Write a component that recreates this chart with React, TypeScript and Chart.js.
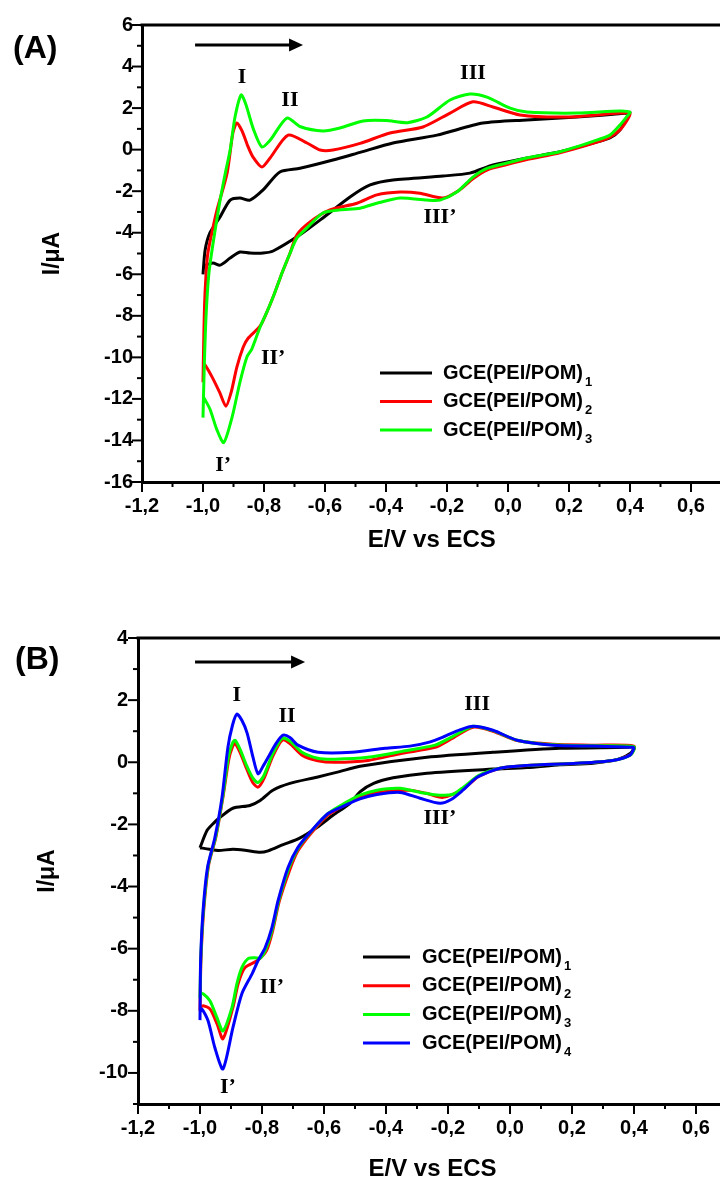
import React, { useEffect, useRef } from 'react';
import { Chart, registerables } from 'chart.js';

Chart.register(...registerables);

// ---------------- data (E / V, I / µA) ----------------
// Panel A
const A1: number[][] = [
  [-1.0, -6.0], [-0.993, -4.83], [-0.977, -4.0], [-0.944, -3.24], [-0.911, -2.43], [-0.879, -2.33], [-0.846, -2.43],
  [-0.803, -1.94], [-0.748, -1.08], [-0.682, -0.9], [-0.574, -0.5], [-0.485, -0.13], [-0.377, 0.32], [-0.233, 0.7],
  [-0.082, 1.28], [0.062, 1.43], [0.226, 1.57], [0.39, 1.76], [0.4, 1.8],
  [0.392, 1.6], [0.367, 0.94], [0.334, 0.56], [0.279, 0.32], [0.17, -0.1], [0.062, -0.4], [-0.049, -0.74],
  [-0.125, -1.13], [-0.213, -1.27], [-0.377, -1.46], [-0.452, -1.7], [-0.518, -2.28], [-0.607, -3.29],
  [-0.682, -4.1], [-0.77, -4.88], [-0.803, -4.98], [-0.846, -4.98], [-0.879, -4.93], [-0.911, -5.22],
  [-0.944, -5.56], [-0.967, -5.46], [-0.993, -5.56], [-1.0, -5.5],
];
const A2: number[][] = [
  [-1.0, -11.2], [-0.998, -9.5], [-0.995, -7.5], [-0.99, -6.0], [-0.984, -4.98], [-0.968, -3.8], [-0.954, -2.9],
  [-0.921, -1.13], [-0.902, 0.8], [-0.889, 1.28], [-0.872, 0.9], [-0.852, 0.13], [-0.836, -0.36], [-0.807, -0.84],
  [-0.78, -0.4], [-0.721, 0.7], [-0.659, 0.32], [-0.616, -0.02], [-0.574, -0.02], [-0.485, 0.3], [-0.387, 0.8],
  [-0.279, 1.09], [-0.19, 1.76], [-0.115, 2.3], [-0.049, 2.05], [0.039, 1.67], [0.193, 1.57], [0.367, 1.76], [0.4, 1.75],
  [0.392, 1.45], [0.367, 0.95], [0.334, 0.6], [0.279, 0.3], [0.17, -0.15], [0.062, -0.48], [-0.003, -0.72],
  [-0.069, -0.98], [-0.115, -1.4], [-0.16, -1.95], [-0.213, -2.33], [-0.289, -2.1], [-0.354, -2.04], [-0.43, -2.18],
  [-0.495, -2.58], [-0.584, -2.9], [-0.649, -3.48], [-0.692, -4.1], [-0.715, -5.0], [-0.74, -5.9], [-0.765, -6.9],
  [-0.79, -7.8], [-0.813, -8.5], [-0.852, -9.08], [-0.868, -9.5], [-0.889, -10.47], [-0.908, -11.7], [-0.925, -12.35],
  [-0.945, -11.7], [-0.97, -10.95], [-0.993, -10.37], [-1.0, -10.3],
];
const A3: number[][] = [
  [-1.0, -12.9], [-0.996, -10.5], [-0.99, -8.0], [-0.981, -6.0], [-0.968, -4.6], [-0.955, -3.4], [-0.944, -2.43],
  [-0.925, -1.0], [-0.911, -0.02], [-0.895, 1.57], [-0.875, 2.63], [-0.86, 2.2], [-0.835, 1.0], [-0.807, 0.13],
  [-0.78, 0.45], [-0.725, 1.52], [-0.68, 1.1], [-0.607, 0.9], [-0.551, 1.04], [-0.475, 1.38], [-0.4, 1.4],
  [-0.33, 1.3], [-0.266, 1.57], [-0.19, 2.39], [-0.125, 2.68], [-0.069, 2.53], [0.007, 2.0], [0.062, 1.81],
  [0.226, 1.76], [0.367, 1.86], [0.4, 1.8],
  [0.39, 1.6], [0.367, 1.18], [0.334, 0.7], [0.279, 0.4], [0.17, -0.1], [0.062, -0.4], [-0.003, -0.64],
  [-0.069, -0.9], [-0.115, -1.32], [-0.168, -2.04], [-0.223, -2.43], [-0.266, -2.43], [-0.354, -2.33],
  [-0.43, -2.58], [-0.485, -2.82], [-0.551, -2.9], [-0.607, -3.05], [-0.659, -3.77], [-0.692, -4.25],
  [-0.715, -5.0], [-0.74, -5.9], [-0.765, -6.9], [-0.79, -7.8], [-0.813, -8.55], [-0.84, -9.6], [-0.856, -9.98],
  [-0.879, -11.2], [-0.905, -12.9], [-0.932, -14.1], [-0.954, -13.5], [-0.977, -12.5], [-0.993, -12.05], [-1.0, -11.9],
];

// Panel B
const B1: number[][] = [
  [-1.0, -2.75], [-0.977, -2.19], [-0.955, -1.95], [-0.935, -1.77], [-0.894, -1.48], [-0.839, -1.39], [-0.806, -1.23],
  [-0.765, -0.9], [-0.71, -0.68], [-0.623, -0.48], [-0.55, -0.3], [-0.484, -0.13], [-0.268, 0.16], [-0.055, 0.32],
  [0.161, 0.45], [0.377, 0.48], [0.4, 0.5],
  [0.39, 0.3], [0.35, 0.1], [0.268, -0.03], [0.161, -0.08], [0.055, -0.17], [-0.055, -0.22], [-0.268, -0.35],
  [-0.377, -0.5], [-0.44, -0.68], [-0.484, -0.95], [-0.516, -1.32], [-0.57, -1.7], [-0.623, -2.1], [-0.68, -2.45],
  [-0.732, -2.65], [-0.78, -2.85], [-0.806, -2.9], [-0.85, -2.84], [-0.894, -2.8], [-0.94, -2.84], [-0.97, -2.8],
  [-1.0, -2.75],
];
const B2: number[][] = [
  [-1.0, -8.0], [-0.997, -6.4], [-0.988, -4.77], [-0.972, -3.3], [-0.949, -2.42], [-0.926, -1.13], [-0.907, 0.1],
  [-0.895, 0.5], [-0.887, 0.61], [-0.87, 0.3], [-0.85, -0.2], [-0.83, -0.65], [-0.813, -0.8], [-0.795, -0.55],
  [-0.765, 0.2], [-0.735, 0.71], [-0.71, 0.6], [-0.671, 0.23], [-0.62, 0.05], [-0.564, 0.0], [-0.458, 0.06],
  [-0.348, 0.29], [-0.242, 0.48], [-0.19, 0.75], [-0.119, 1.13], [-0.055, 1.0], [0.023, 0.7], [0.139, 0.58],
  [0.268, 0.55], [0.4, 0.52],
  [0.39, 0.25], [0.332, 0.06], [0.216, -0.03], [0.055, -0.1], [-0.032, -0.19], [-0.1, -0.45], [-0.15, -0.85],
  [-0.216, -1.13], [-0.27, -1.0], [-0.323, -0.9], [-0.429, -0.97], [-0.484, -1.1], [-0.53, -1.35], [-0.587, -1.7],
  [-0.639, -2.25], [-0.684, -2.85], [-0.71, -3.45], [-0.745, -4.5], [-0.765, -5.4], [-0.785, -6.05], [-0.816, -6.39],
  [-0.855, -6.61], [-0.877, -7.13], [-0.894, -7.9], [-0.926, -8.9], [-0.945, -8.42], [-0.968, -7.94], [-0.99, -7.84],
  [-1.0, -7.9],
];
const B3: number[][] = [
  [-1.0, -7.6], [-0.997, -6.2], [-0.989, -4.77], [-0.973, -3.3], [-0.95, -2.42], [-0.927, -1.13], [-0.908, 0.2],
  [-0.896, 0.6], [-0.887, 0.71], [-0.87, 0.4], [-0.85, -0.1], [-0.83, -0.5], [-0.813, -0.65], [-0.795, -0.45],
  [-0.765, 0.28], [-0.735, 0.77], [-0.71, 0.68], [-0.671, 0.32], [-0.62, 0.13], [-0.564, 0.1], [-0.458, 0.16],
  [-0.348, 0.35], [-0.242, 0.55], [-0.19, 0.8], [-0.119, 1.16], [-0.055, 1.02], [0.023, 0.71], [0.139, 0.56],
  [0.268, 0.53], [0.4, 0.5],
  [0.39, 0.24], [0.332, 0.06], [0.216, -0.03], [0.055, -0.1], [-0.032, -0.19], [-0.1, -0.42], [-0.15, -0.8],
  [-0.184, -1.03], [-0.226, -1.06], [-0.29, -0.97], [-0.355, -0.84], [-0.429, -0.9], [-0.484, -1.06], [-0.53, -1.3],
  [-0.587, -1.65], [-0.639, -2.2], [-0.684, -2.78], [-0.713, -3.4], [-0.746, -4.45], [-0.766, -5.35], [-0.787, -6.0],
  [-0.805, -6.3], [-0.823, -6.29], [-0.845, -6.32], [-0.865, -6.61], [-0.881, -7.13], [-0.897, -7.9], [-0.926, -8.65],
  [-0.945, -8.23], [-0.968, -7.68], [-0.99, -7.45], [-1.0, -7.45],
];
const B4: number[][] = [
  [-1.0, -8.3], [-0.998, -6.4], [-0.99, -4.77], [-0.976, -3.4], [-0.952, -2.42], [-0.929, -1.13], [-0.91, 0.48],
  [-0.895, 1.2], [-0.881, 1.55], [-0.865, 1.35], [-0.848, 0.94], [-0.83, 0.2], [-0.813, -0.37], [-0.795, -0.1],
  [-0.78, 0.16], [-0.755, 0.6], [-0.732, 0.87], [-0.71, 0.8], [-0.684, 0.55], [-0.619, 0.32], [-0.51, 0.32],
  [-0.403, 0.45], [-0.323, 0.52], [-0.26, 0.65], [-0.216, 0.81], [-0.16, 1.05], [-0.119, 1.16], [-0.055, 1.03],
  [0.023, 0.71], [0.139, 0.55], [0.268, 0.52], [0.397, 0.48], [0.4, 0.45],
  [0.387, 0.23], [0.332, 0.06], [0.216, -0.03], [0.055, -0.1], [-0.032, -0.19], [-0.106, -0.48], [-0.152, -0.9],
  [-0.19, -1.2], [-0.226, -1.32], [-0.29, -1.16], [-0.355, -0.97], [-0.429, -1.04], [-0.484, -1.18], [-0.53, -1.38],
  [-0.587, -1.65], [-0.639, -2.19], [-0.684, -2.74], [-0.716, -3.39], [-0.748, -4.45], [-0.768, -5.32], [-0.79, -5.97],
  [-0.813, -6.39], [-0.832, -6.81], [-0.865, -7.45], [-0.894, -8.55], [-0.926, -9.87], [-0.952, -9.19], [-0.974, -8.32],
  [-0.994, -7.94], [-1.0, -8.06],
];

const SERIES_COLORS = ['#000000', '#ff0000', '#00ff00', '#0000ff'];
const LEGEND_BASE = 'GCE(PEI/POM)';
const LEGEND_SUBS_A = ['1', '2', '3'];
const LEGEND_SUBS_B = ['1', '2', '3', '4'];

const X_MIN = -1.2;
const X_MAX = 0.7;
const Y_RANGE_A = [-16, 6];
const Y_RANGE_B = [-11, 4];

const X_TITLE = 'E/V vs ECS';
const Y_TITLE = 'I/\u03bcA';

// peak labels anchored in data coordinates
const PEAKS_A = [
  { t: 'I', e: -0.872, i: 3.5 }, { t: 'II', e: -0.715, i: 2.39 }, { t: 'III', e: -0.115, i: 3.69 },
  { t: 'III\u2019', e: -0.223, i: -3.24 }, { t: 'II\u2019', e: -0.77, i: -10.03 }, { t: 'I\u2019', e: -0.934, i: -15.18 },
];
const PEAKS_B = [
  { t: 'I', e: -0.881, i: 2.16 }, { t: 'II', e: -0.719, i: 1.48 }, { t: 'III', e: -0.106, i: 1.87 },
  { t: 'III\u2019', e: -0.226, i: -1.81 }, { t: 'II\u2019', e: -0.768, i: -7.26 }, { t: 'I\u2019', e: -0.91, i: -10.45 },
];
const ARROW_A = { e0: -1.026, e1: -0.672, i: 5.04 };
const ARROW_B = { e0: -1.016, e1: -0.661, i: 3.23 };

// ---------------- helpers ----------------
const SANS = "'Liberation Sans', Arial, Helvetica, sans-serif";
const SERIF = "'Liberation Serif', 'Times New Roman', serif";

function fmtX(v: number): string {
  const k = Math.round(v * 10);
  if (k % 2 !== 0) return '';
  return (k / 10).toFixed(1).replace('.', ',');
}
function fmtY(v: number): string {
  const k = Math.round(v);
  if (k % 2 !== 0) return '';
  return String(k);
}

function makeDecorPlugin(d: any) {
  return {
    id: 'cvDecor',
    afterDraw(chart: any) {
      const { ctx, chartArea: ca, scales } = chart;
      const xs = scales.x;
      const ys = scales.y;
      ctx.save();
      ctx.strokeStyle = '#000';
      ctx.fillStyle = '#000';
      // top frame
      ctx.lineWidth = 3;
      ctx.beginPath();
      ctx.moveTo(ca.left - 1.5, ca.top);
      ctx.lineTo(ca.right + 2, ca.top);
      ctx.stroke();
      // major / minor ticks (outside)
      ctx.lineWidth = 2;
      for (const t of xs.ticks) {
        const k = Math.round(t.value * 10);
        const px = xs.getPixelForValue(t.value);
        const len = k % 2 === 0 ? 10 : 5;
        ctx.beginPath();
        ctx.moveTo(px, ca.bottom);
        ctx.lineTo(px, ca.bottom + len);
        ctx.stroke();
      }
      for (const t of ys.ticks) {
        const k = Math.round(t.value);
        const py = ys.getPixelForValue(t.value);
        const len = k % 2 === 0 ? 10 : 5;
        ctx.beginPath();
        ctx.moveTo(ca.left, py);
        ctx.lineTo(ca.left - len, py);
        ctx.stroke();
      }
      // panel letter
      ctx.font = `bold 32px ${SANS}`;
      ctx.textAlign = 'left';
      ctx.textBaseline = 'middle';
      ctx.fillText(d.panel.text, d.panel.x, d.panel.y);
      // scan direction arrow
      const ax0 = xs.getPixelForValue(d.arrow.e0);
      const ax1 = xs.getPixelForValue(d.arrow.e1);
      const ay = ys.getPixelForValue(d.arrow.i);
      ctx.lineWidth = 3;
      ctx.beginPath();
      ctx.moveTo(ax0, ay);
      ctx.lineTo(ax1 - 12, ay);
      ctx.stroke();
      ctx.beginPath();
      ctx.moveTo(ax1, ay);
      ctx.lineTo(ax1 - 14, ay - 6.5);
      ctx.lineTo(ax1 - 14, ay + 6.5);
      ctx.closePath();
      ctx.fill();
      // peak labels
      ctx.font = `bold 22px ${SERIF}`;
      ctx.textAlign = 'center';
      for (const p of d.peaks) {
        ctx.fillText(p.t, xs.getPixelForValue(p.e), ys.getPixelForValue(p.i));
      }
      // legend
      const L = d.legend;
      chart.data.datasets.forEach((ds: any, idx: number) => {
        const y = L.y0 + idx * L.dy;
        ctx.strokeStyle = ds.borderColor;
        ctx.lineWidth = 3;
        ctx.beginPath();
        ctx.moveTo(L.lx0, y);
        ctx.lineTo(L.lx1, y);
        ctx.stroke();
        ctx.fillStyle = '#000';
        ctx.textAlign = 'left';
        ctx.textBaseline = 'middle';
        ctx.font = `bold 20px ${SANS}`;
        ctx.fillText(LEGEND_BASE, L.tx, y);
        const w = ctx.measureText(LEGEND_BASE).width;
        ctx.font = `bold 13px ${SANS}`;
        ctx.fillText(L.subs[idx], L.tx + w + 2, y + 9);
      });
      ctx.restore();
    },
  };
}

function makeConfig(p: any) {
  const n = p.series.length;
  const tickFont = { family: SANS, size: 20, weight: 'bold' as const };
  return {
    type: 'scatter' as const,
    data: {
      datasets: p.series.map((pts: number[][], idx: number) => ({
        label: LEGEND_BASE + p.subs[idx],
        data: pts.map(([x, y]) => ({ x, y })),
        borderColor: SERIES_COLORS[idx],
        backgroundColor: SERIES_COLORS[idx],
        borderWidth: 3,
        pointRadius: 0,
        pointHoverRadius: 0,
        showLine: true,
        tension: 0.25,
        fill: false,
        order: n - idx,
      })),
    },
    options: {
      responsive: false,
      animation: false as const,
      events: [],
      layout: { padding: p.padding },
      plugins: { legend: { display: false }, tooltip: { enabled: false } },
      scales: {
        x: {
          type: 'linear' as const,
          position: 'bottom' as const,
          min: X_MIN,
          max: X_MAX,
          afterFit: (s: any) => { s.height = p.xAxisHeight; },
          border: { display: true, color: '#000', width: 3 },
          grid: { display: true, drawOnChartArea: false, drawTicks: true, tickLength: 9, tickColor: 'rgba(0,0,0,0)' },
          ticks: {
            stepSize: 0.1, maxTicksLimit: 100, autoSkip: false, maxRotation: 0, minRotation: 0,
            padding: 3, color: '#000', font: tickFont,
            callback: (v: any) => fmtX(Number(v)),
          },
          title: {
            display: true, text: X_TITLE, color: '#000',
            font: { family: SANS, size: 24, weight: 'bold' as const, lineHeight: 1.2 },
            padding: { top: 0, bottom: p.xTitlePad },
          },
        },
        y: {
          type: 'linear' as const,
          position: 'left' as const,
          min: p.yRange[0],
          max: p.yRange[1],
          afterFit: (s: any) => { s.width = p.yAxisWidth; },
          border: { display: true, color: '#000', width: 3 },
          grid: { display: true, drawOnChartArea: false, drawTicks: true, tickLength: 9, tickColor: 'rgba(0,0,0,0)' },
          ticks: {
            stepSize: 1, maxTicksLimit: 100, autoSkip: false,
            padding: p.yTickPad, color: '#000', font: tickFont,
            callback: (v: any) => fmtY(Number(v)),
          },
          title: {
            display: true, text: Y_TITLE, color: '#000',
            font: { family: SANS, size: 23, weight: 'bold' as const, lineHeight: 1.2 },
            padding: { top: p.yTitlePad, bottom: 0 },
          },
        },
      },
    },
    plugins: [makeDecorPlugin(p.decor)],
  };
}

const PANEL_A = {
  width: 740, height: 570, top: 0,
  series: [A1, A2, A3], subs: LEGEND_SUBS_A, yRange: Y_RANGE_A,
  padding: { top: 25, right: 18.5, bottom: 8, left: 0 },
  yAxisWidth: 142, xAxisHeight: 80, xTitlePad: 7.6, yTitlePad: 39, yTickPad: 0,
  decor: {
    panel: { text: '(A)', x: 13, y: 49 },
    arrow: ARROW_A,
    peaks: PEAKS_A,
    legend: { lx0: 380, lx1: 432, tx: 443, y0: 373, dy: 28.5, subs: LEGEND_SUBS_A },
  },
};

const PANEL_B = {
  width: 740, height: 640, top: 560,
  series: [B1, B2, B3, B4], subs: LEGEND_SUBS_B, yRange: Y_RANGE_B,
  padding: { top: 78, right: 13, bottom: 16, left: 0 },
  yAxisWidth: 138, xAxisHeight: 80, xTitlePad: 0, yTitlePad: 34, yTickPad: 1,
  decor: {
    panel: { text: '(B)', x: 15, y: 100 },
    arrow: ARROW_B,
    peaks: PEAKS_B,
    legend: { lx0: 363, lx1: 410, tx: 422, y0: 397, dy: 28.7, subs: LEGEND_SUBS_B },
  },
};

function CVChart({ spec }: { spec: any }) {
  const ref = useRef<HTMLCanvasElement | null>(null);
  useEffect(() => {
    if (!ref.current) return;
    const chart = new Chart(ref.current, makeConfig(spec) as any);
    return () => chart.destroy();
  }, [spec]);
  return (
    <canvas
      ref={ref}
      width={spec.width}
      height={spec.height}
      style={{ position: 'absolute', left: 0, top: spec.top, width: spec.width, height: spec.height, display: 'block' }}
    />
  );
}

export default function App() {
  return (
    <div style={{ position: 'absolute', left: 0, top: 0, width: 720, height: 1180, overflow: 'hidden', background: '#ffffff' }}>
      <CVChart spec={PANEL_A} />
      <CVChart spec={PANEL_B} />
    </div>
  );
}
